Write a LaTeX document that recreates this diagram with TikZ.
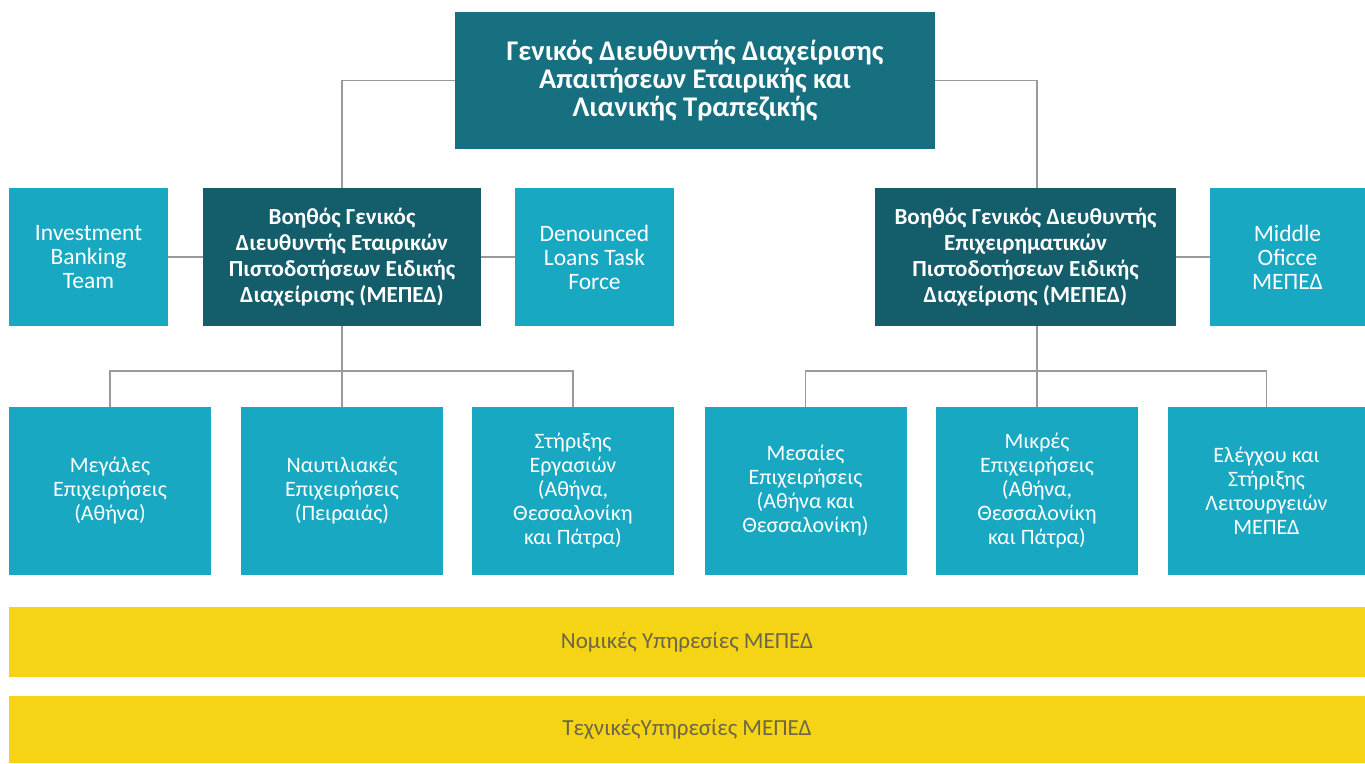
\documentclass[tikz,border=0pt]{standalone}
\usepackage{fontspec}
\setmainfont{Carlito}
\definecolor{topteal}{HTML}{17707F}
\definecolor{midteal}{HTML}{145E6C}
\definecolor{lightteal}{HTML}{18A8C2}
\definecolor{barYellow}{HTML}{F4D414}
\definecolor{barText}{HTML}{6E6648}
\definecolor{lineGray}{HTML}{9A9A9A}
\tikzset{
  topbox/.style={fill=topteal, text=white, align=center, inner sep=0pt,
    font=\bfseries\fontsize{28.5}{28}\selectfont},
  midbox/.style={fill=midteal, text=white, align=center, inner sep=0pt,
    font=\bfseries\fontsize{23}{26}\selectfont},
  sidebox/.style={fill=lightteal, text=white, align=center, inner sep=0pt,
    font=\fontsize{23.5}{24}\selectfont},
  unitbox/.style={fill=lightteal, text=white, align=center, inner sep=0pt,
    minimum width=202pt, minimum height=168pt,
    font=\fontsize{22}{24}\selectfont},
  bar/.style={fill=barYellow, text=barText, inner sep=0pt,
    font=\fontsize{23}{22}\selectfont},
  conn/.style={draw=lineGray, line width=1.2pt}
}
\begin{document}
\begin{tikzpicture}[x=1pt,y=-1pt]
\useasboundingbox (0,0) rectangle (1365,763);
% top
\node[topbox, minimum width=480pt, minimum height=137pt] (top) at (695,80.5)
  {Γενικός Διευθυντής Διαχείρισης\\Απαιτήσεων Εταιρικής και\\Λιανικής Τραπεζικής};
% second level
\node[sidebox, minimum width=159pt, minimum height=138pt] (ib) at (88.5,257)
  {Investment\\Banking\\Team};
\node[midbox, minimum width=278pt, minimum height=138pt] (lm) at (342,257)
  {Βοηθός Γενικός\\Διευθυντής Εταιρικών\\Πιστοδοτήσεων Ειδικής\\Διαχείρισης (ΜΕΠΕΔ)};
\node[sidebox, minimum width=159pt, minimum height=138pt] (dl) at (594.5,257)
  {Denounced\\Loans Task\\Force};
\node[midbox, minimum width=301pt, minimum height=138pt] (rm) at (1025.5,257)
  {Βοηθός Γενικός Διευθυντής\\Επιχειρηματικών\\Πιστοδοτήσεων Ειδικής\\Διαχείρισης (ΜΕΠΕΔ)};
\node[sidebox, minimum width=155pt, minimum height=138pt] (mo) at (1287.5,257)
  {Middle\\Oficce\\ΜΕΠΕΔ};
% third level
\node[unitbox] (b1) at (110,491) {Μεγάλες\\Επιχειρήσεις\\(Αθήνα)};
\node[unitbox] (b2) at (342,491) {Ναυτιλιακές\\Επιχειρήσεις\\(Πειραιάς)};
\node[unitbox] (b3) at (573,491) {Στήριξης\\Εργασιών\\(Αθήνα,\\Θεσσαλονίκη\\και Πάτρα)};
\node[unitbox] (b4) at (805.5,491) {Μεσαίες\\Επιχειρήσεις\\(Αθήνα και\\Θεσσαλονίκη)};
\node[unitbox] (b5) at (1037,491) {Μικρές\\Επιχειρήσεις\\(Αθήνα,\\Θεσσαλονίκη\\και Πάτρα)};
\node[unitbox, minimum width=197pt] (b6) at (1266.5,491) {Ελέγχου και\\Στήριξης\\Λειτουργειών\\ΜΕΠΕΔ};
% bars
\node[bar, minimum width=1356pt, minimum height=70pt] (legal) at (687,642)
  {Νομικές Υπηρεσίες ΜΕΠΕΔ};
\node[bar, minimum width=1356pt, minimum height=67pt] (tech) at (687,729.5)
  {ΤεχνικέςΥπηρεσίες ΜΕΠΕΔ};
% connector points
\coordinate (rmtop) at (1037,188);
\coordinate (rmbot) at (1037,326);
\coordinate (lbus) at (342,371);
\coordinate (rbus) at (1037,371);
% connectors
\draw[conn] (top.west) -| (lm.north);
\draw[conn] (top.east) -| (rmtop);
\draw[conn] (ib.east) -- (lm.west);
\draw[conn] (lm.east) -- (dl.west);
\draw[conn] (rm.east) -- (mo.west);
\draw[conn] (lm.south) -- (b2.north);
\draw[conn] (b1.north) -- (b1.north |- lbus) -- (b3.north |- lbus) -- (b3.north);
\draw[conn] (rmbot) -- (b5.north);
\draw[conn] (b4.north) -- (b4.north |- rbus) -- (b6.north |- rbus) -- (b6.north);
\end{tikzpicture}
\end{document}
